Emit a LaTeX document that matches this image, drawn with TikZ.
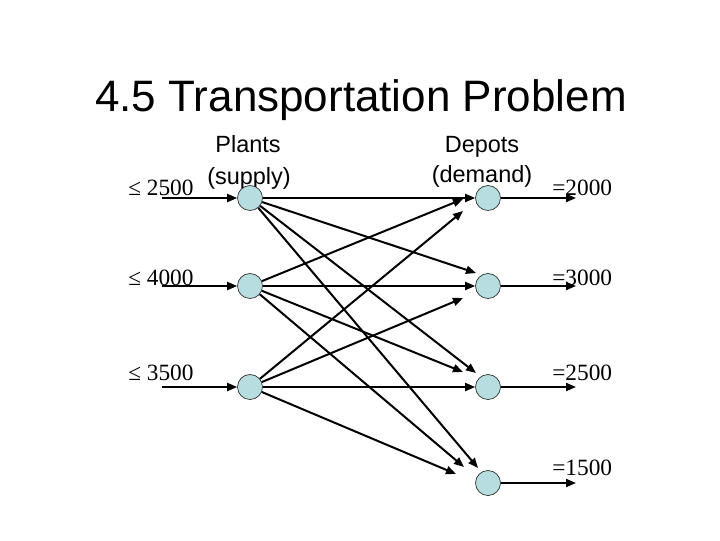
\documentclass[tikz,border=0pt]{standalone}
\usepackage{fontspec}
\setmainfont{Liberation Serif}
\newfontfamily\arialf{Liberation Sans}
\usetikzlibrary{arrows.meta}
\definecolor{nodefill}{RGB}{183,221,224}
\begin{document}
\begin{tikzpicture}[x=0.75pt,y=-0.75pt,
  vert/.style={circle,draw=black!85,line width=0.5pt,fill=nodefill,minimum size=18.75pt,inner sep=0pt},
  flow/.style={line width=1.5pt,-{Triangle[length=7.5pt,width=6pt]}},
  sanslabel/.style={font=\arialf\fontsize{17.6}{21}\selectfont,inner sep=0pt,anchor=base},
  numlabel/.style={font=\fontsize{17.5}{20}\selectfont,inner sep=0pt,anchor=base west}
]
\useasboundingbox[fill=white] (0,0) rectangle (720,540);

% title
\node[font=\arialf\fontsize{33}{40}\selectfont,anchor=base,inner sep=0pt] (title) at (361,111) {4.5 Transportation Problem};

% headings
\node[sanslabel] (plants) at (248,152) {Plants};
\node[sanslabel] (supply) at (249,184) {(supply)};
\node[sanslabel] (depots) at (482,152) {Depots};
\node[sanslabel] (demand) at (482,182) {(demand)};

% nodes
\node[vert] (p1) at (250,198) {};
\node[vert] (p2) at (250,286) {};
\node[vert] (p3) at (250,387) {};
\node[vert] (d1) at (488,198) {};
\node[vert] (d2) at (488,286) {};
\node[vert] (d3) at (488,387) {};
\node[vert] (d4) at (488,483) {};

% input / output ends
\coordinate (i1) at (162,198);
\coordinate (i2) at (162,286);
\coordinate (i3) at (162,387);
\coordinate (o1) at (576,198);
\coordinate (o2) at (576,286);
\coordinate (o3) at (576,387);
\coordinate (o4) at (576,483);

% short arrow ends
\coordinate (e12) at (476,273);
\coordinate (e13) at (476,373);
\coordinate (e14) at (478,468);
\coordinate (e21) at (463,199);
\coordinate (e23) at (463,372);
\coordinate (e24) at (464,467);
\coordinate (e31) at (463,211);
\coordinate (e32) at (463,298);
\coordinate (e34) at (456,474);

% labels
\node[numlabel] (s1) at (128,195) {≤ 2500};
\node[numlabel] (s2) at (128,285) {≤ 4000};
\node[numlabel] (s3) at (128,380) {≤ 3500};
\node[numlabel] (r1) at (552,195) {=2000};
\node[numlabel] (r2) at (552,285) {=3000};
\node[numlabel] (r3) at (552,380) {=2500};
\node[numlabel] (r4) at (552,475) {=1500};

% supply / demand arrows
\draw[flow] (i1) -- (p1);
\draw[flow] (i2) -- (p2);
\draw[flow] (i3) -- (p3);
\draw[flow] (d1) -- (o1);
\draw[flow] (d2) -- (o2);
\draw[flow] (d3) -- (o3);
\draw[flow] (d4) -- (o4);

% transport arrows
\draw[flow] (p1) -- (d1);
\draw[flow] (p1) -- (e12);
\draw[flow] (p1) -- (e13);
\draw[flow] (p1) -- (e14);
\draw[flow] (p2) -- (e21);
\draw[flow] (p2) -- (d2);
\draw[flow] (p2) -- (e23);
\draw[flow] (p2) -- (e24);
\draw[flow] (p3) -- (e31);
\draw[flow] (p3) -- (e32);
\draw[flow] (p3) -- (d3);
\draw[flow] (p3) -- (e34);
\end{tikzpicture}
\end{document}
